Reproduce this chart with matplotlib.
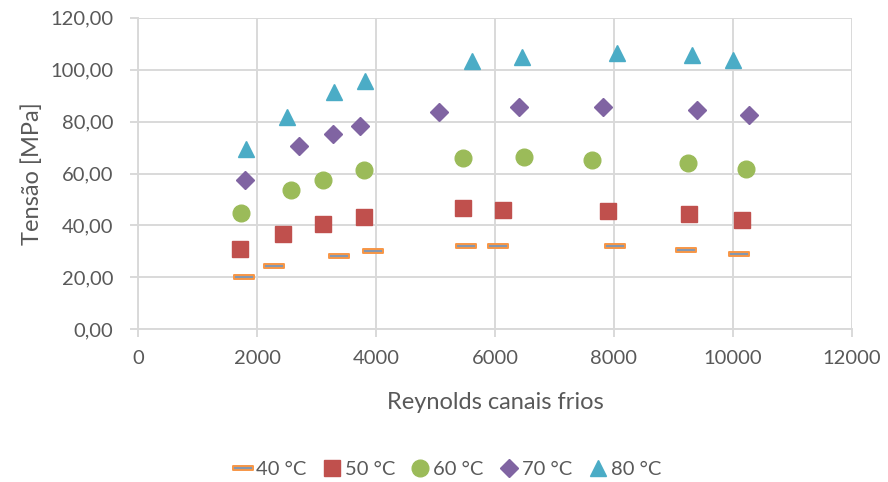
import matplotlib
matplotlib.use("Agg")
import matplotlib.pyplot as plt
from matplotlib.path import Path
from matplotlib.ticker import FuncFormatter, MultipleLocator
import numpy as np

# Reynolds number in the cold channels (x) and stress in MPa (y) per temperature
re_40 = [1770, 2290, 3370, 3940, 5520, 6050, 8020, 9220, 10100]
t_40 = [20.3, 24.4, 28.2, 30.1, 31.9, 32.0, 32.0, 30.6, 28.9]

re_50 = [1710, 2430, 3110, 3790, 5470, 6130, 7900, 9260, 10160]
t_50 = [30.8, 36.8, 40.4, 43.3, 46.7, 45.8, 45.7, 44.4, 42.1]

re_60 = [1730, 2570, 3110, 3790, 5460, 6480, 7640, 9240, 10220]
t_60 = [44.6, 53.8, 57.6, 61.4, 66.0, 66.2, 65.2, 64.0, 61.9]

re_70 = [1790, 2710, 3270, 3730, 5050, 6400, 7820, 9390, 10280]
t_70 = [57.6, 70.6, 75.4, 78.2, 83.6, 85.5, 85.7, 84.4, 82.7]

re_80 = [1820, 2500, 3290, 3810, 5620, 6460, 8060, 9310, 10000]
t_80 = [69.5, 81.9, 91.3, 95.8, 103.5, 104.8, 106.4, 105.7, 103.9]

labels = ["40 °C", "50 °C", "60 °C", "70 °C", "80 °C"]

text_color = "#595959"
grid_color = "#D9D9D9"
plt.rcParams["font.family"] = ["Lato", "DejaVu Sans"]

fig = plt.figure(figsize=(8.88, 4.82), dpi=100)
ax = fig.add_axes([138.3 / 888, 1 - 329.3 / 482, (851.7 - 138.3) / 888, (329.3 - 17.7) / 482])

# flat bar marker used for the 40 °C series
dash = Path([(-1, -0.22), (1, -0.22), (1, 0.22), (-1, 0.22), (-1, -0.22)],
            [Path.MOVETO, Path.LINETO, Path.LINETO, Path.LINETO, Path.CLOSEPOLY])

ax.plot(re_40, t_40, linestyle="none", marker=dash, markersize=15,
        markerfacecolor="#8497B0", markeredgecolor="#F79646", markeredgewidth=1.4,
        label=labels[0], zorder=3)
ax.plot(re_50, t_50, linestyle="none", marker="s", markersize=11,
        color="#C0504D", label=labels[1], zorder=3)
ax.plot(re_60, t_60, linestyle="none", marker="o", markersize=12,
        color="#9BBB59", label=labels[2], zorder=3)
ax.plot(re_70, t_70, linestyle="none", marker="D", markersize=9,
        color="#8064A2", label=labels[3], zorder=3)
ax.plot(re_80, t_80, linestyle="none", marker="^", markersize=12,
        color="#4BACC6", label=labels[4], zorder=3)

ax.set_xlim(0, 12000)
ax.set_ylim(0, 120)
ax.xaxis.set_major_locator(MultipleLocator(2000))
ax.yaxis.set_major_locator(MultipleLocator(20))
ax.yaxis.set_major_formatter(FuncFormatter(lambda v, p: f"{v:.2f}".replace(".", ",")))
ax.xaxis.set_major_formatter(FuncFormatter(lambda v, p: f"{v:.0f}"))

ax.grid(True, color=grid_color, linewidth=1.4, zorder=0)
ax.set_axisbelow(True)
for side in ["top", "right"]:
    ax.spines[side].set_visible(False)
for side in ["left", "bottom"]:
    ax.spines[side].set_color(grid_color)
    ax.spines[side].set_linewidth(1.4)

ax.tick_params(axis="both", colors=grid_color, labelcolor=text_color,
               labelsize=14.5, length=6, width=1.4)
ax.tick_params(axis="x", pad=9)
ax.tick_params(axis="y", pad=12)

ax.set_xlabel("Reynolds canais frios", fontsize=17, color=text_color, labelpad=18)
ax.set_ylabel("Tensão [MPa]", fontsize=17, color=text_color, labelpad=5)

leg = fig.legend(loc="center", bbox_to_anchor=(447 / 888, 1 - 469 / 482), ncol=5,
                 frameon=False, fontsize=14.5, handletextpad=0.15, columnspacing=0.75,
                 handlelength=1.0, borderaxespad=0)
for t in leg.get_texts():
    t.set_color(text_color)

fig.savefig("out.png", dpi=100)
